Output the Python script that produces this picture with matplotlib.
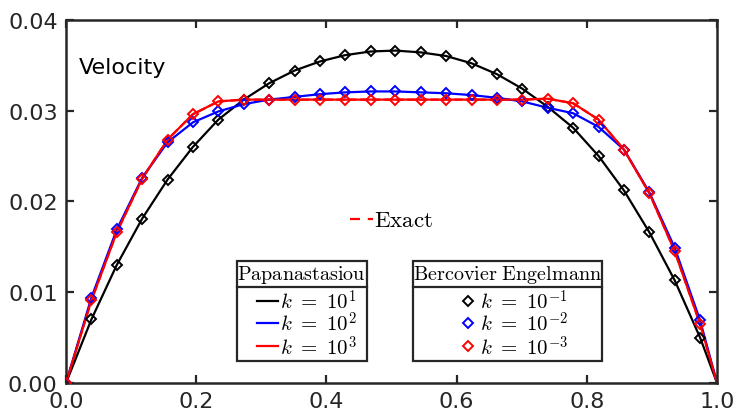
import matplotlib
matplotlib.use("Agg")
import matplotlib.pyplot as plt
from matplotlib.patches import Rectangle

plt.rcParams['mathtext.fontset'] = 'cm'

# node positions along the channel (last one is the wall)
x = [0.0, 0.039, 0.078, 0.117, 0.156, 0.195, 0.234, 0.273, 0.312, 0.351,
     0.390, 0.429, 0.468, 0.506, 0.545, 0.584, 0.623, 0.662, 0.701, 0.740,
     0.779, 0.818, 0.857, 0.896, 0.935, 0.974, 1.0]

# velocity profiles
u_k1 = [0.0, 0.0070, 0.0130, 0.0181, 0.0224, 0.0260, 0.0290, 0.0312, 0.0330, 0.0344,
        0.0354, 0.0361, 0.0365, 0.0366, 0.0364, 0.0360, 0.0352, 0.0340, 0.0324, 0.0304,
        0.0281, 0.0250, 0.0212, 0.0166, 0.0113, 0.0050, 0.0]
u_k2 = [0.0, 0.0094, 0.0169, 0.0226, 0.0265, 0.0287, 0.0299, 0.0307, 0.0312, 0.0315,
        0.0318, 0.0320, 0.0321, 0.0321, 0.0320, 0.0319, 0.0317, 0.0314, 0.0310, 0.0303,
        0.0297, 0.0282, 0.0257, 0.0210, 0.0149, 0.0069, 0.0]
u_k3 = [0.0, 0.0091, 0.0166, 0.0225, 0.0268, 0.0296, 0.0310, 0.0312, 0.0312, 0.0312,
        0.0312, 0.0312, 0.0312, 0.0312, 0.0312, 0.0312, 0.0312, 0.0312, 0.0312, 0.0313,
        0.0308, 0.0290, 0.0257, 0.0209, 0.0145, 0.0065, 0.0]
u_exact = u_k3

pap_labels = [r'$k\ =\ 10^{1}$', r'$k\ =\ 10^{2}$', r'$k\ =\ 10^{3}$']
be_labels = [r'$k\ =\ 10^{-1}$', r'$k\ =\ 10^{-2}$', r'$k\ =\ 10^{-3}$']
colors = ['black', 'blue', 'red']

fig = plt.figure(figsize=(7.36, 4.14), dpi=100)
ax = fig.add_axes([0.0897, 0.0725, 0.8845, 0.8775])

ax.plot(x, u_exact, '--', color='red', lw=1.6, zorder=1)
for u, c in zip([u_k1, u_k2, u_k3], colors):
    ax.plot(x, u, '-', color=c, lw=1.6, zorder=2)
for u, c in zip([u_k1, u_k2, u_k3], colors):
    ax.plot(x[:-1], u[:-1], 'D', ms=5, mfc='none', mec=c, mew=1.4, zorder=3)

ax.set_xlim(0, 1)
ax.set_ylim(0, 0.04)
ax.set_xticks([0, 0.2, 0.4, 0.6, 0.8, 1.0])
ax.set_yticks([0, 0.01, 0.02, 0.03, 0.04])
ax.set_xticklabels(['0.0', '0.2', '0.4', '0.6', '0.8', '1.0'])
ax.set_yticklabels(['0.00', '0.01', '0.02', '0.03', '0.04'])
ax.tick_params(direction='in', length=6, width=1.6, top=True, right=True,
               labelsize=16, colors='#262626', pad=6)
for s in ax.spines.values():
    s.set_linewidth(1.8)
    s.set_color('#262626')

ax.text(0.02, 0.853, 'Velocity', transform=ax.transAxes, fontsize=16,
        va='baseline', ha='left')


def legend_box(x0, x1, title, labels, handle):
    tr = ax.transAxes
    ax.add_patch(Rectangle((x0, 0.0614), x1 - x0, 0.335 - 0.0614, transform=tr,
                           fill=True, fc='white', ec='#262626', lw=1.6, zorder=5))
    ax.plot([x0, x1], [0.265, 0.265], transform=tr, color='#262626', lw=1.6, zorder=6)
    ax.text((x0 + x1) / 2, 0.300, title, transform=tr, fontsize=14.5,
            ha='center', va='center', zorder=6)
    for lab, c, yy in zip(labels, colors, [0.2265, 0.165, 0.101]):
        handle(c, yy)
        ax.text(x0 + (0.066 if handle is line_handle else 0.104), yy, lab,
                transform=tr, fontsize=15, ha='left', va='center', zorder=6)


def line_handle(c, yy):
    ax.plot([0.293, 0.326], [yy, yy], transform=ax.transAxes, color=c, lw=1.6, zorder=6)


def marker_handle(c, yy):
    ax.plot([0.618], [yy], 'D', transform=ax.transAxes, ms=5, mfc='none',
            mec=c, mew=1.4, zorder=6)


legend_box(0.262, 0.462, r'$\mathrm{Papanastasiou}$', pap_labels, line_handle)
legend_box(0.5326, 0.823, r'$\mathrm{Bercovier\ Engelmann}$', be_labels, marker_handle)

# exact solution entry
ax.plot([0.436, 0.4716], [0.451, 0.451], transform=ax.transAxes, color='red',
        lw=1.6, ls=(0, (4.5, 3.5)), zorder=6)
ax.text(0.473, 0.451, r'$\mathrm{Exact}$', transform=ax.transAxes, fontsize=16.5,
        ha='left', va='center', zorder=6)

fig.savefig('out.png', dpi=100)
